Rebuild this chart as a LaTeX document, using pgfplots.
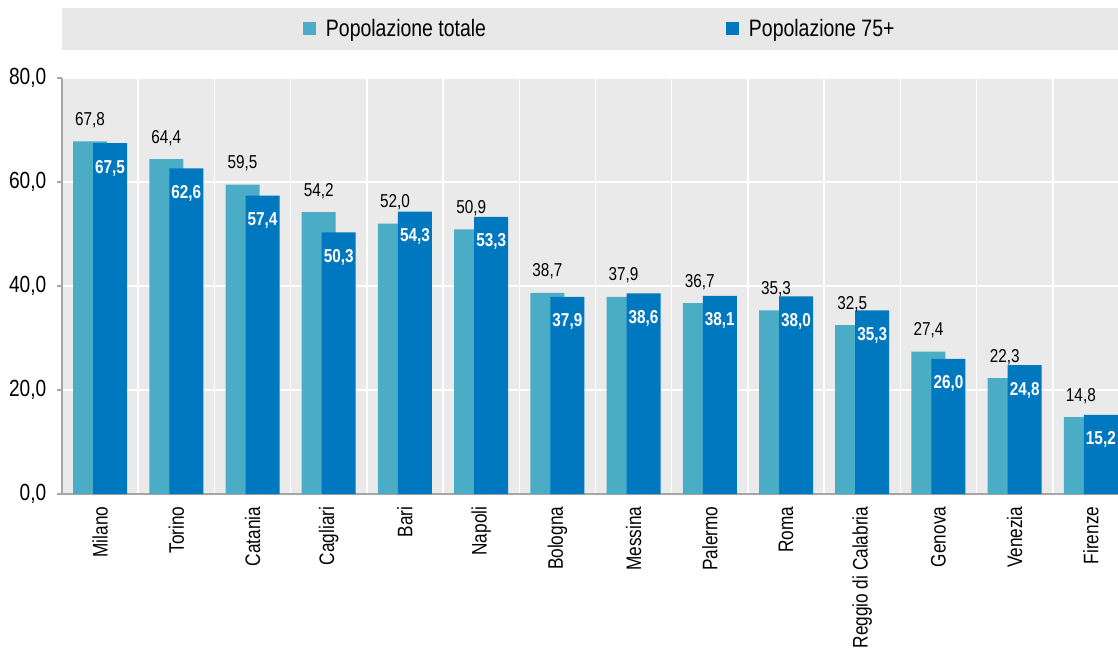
\documentclass[border=0pt]{standalone}
\usepackage{pgfplots}
\pgfplotsset{compat=1.18}
\usepackage{fontspec}
\setmainfont{Liberation Sans}[FakeStretch=0.82]
\newlength\px \setlength\px{0.75pt}
\definecolor{light}{RGB}{75,172,198}
\definecolor{dark}{RGB}{0,120,192}
\definecolor{bg}{RGB}{234,234,234}
\definecolor{band}{RGB}{232,232,232}
\definecolor{axgray}{RGB}{166,166,166}
\begin{document}
\begin{tikzpicture}
\useasboundingbox (-62\px,-160\px) rectangle (1056\px,494\px);
\fill[band] (0,444\px) rectangle (1056\px,486\px);
\begin{axis}[
  at={(0,0)}, anchor=south west,
  scale only axis, width=1056\px, height=416\px,
  xmin=-0.5, xmax=13.356, ymin=0, ymax=80,
  ytick={0,20,40,60,80},
  xtick={0,...,13},
  xticklabels={Milano,Torino,Catania,Cagliari,Bari,Napoli,Bologna,Messina,Palermo,Roma,Reggio di Calabria,Genova,Venezia,Firenze},
  minor xtick={0.5,1.5,...,12.5},
  xminorgrids, ymajorgrids,
  major grid style={white, line width=1.5\px},
  minor grid style={white, line width=1.5\px},
  axis background/.style={fill=bg},
  axis x line*=bottom, axis y line*=left,
  axis line style={axgray, line width=2\px},
  tick align=outside,
  major tick length=5\px, minor tick length=0pt,
  ytick style={axgray, line width=1.5\px},
  xtick style={draw=none},
  /pgf/number format/fixed, /pgf/number format/fixed zerofill,
  /pgf/number format/precision=1, /pgf/number format/use comma,
  /pgf/number format/assume math mode=true,
  yticklabel style={font=\fontsize{17.5}{20}\selectfont, xshift=-6\px},
  xticklabel style={rotate=90, anchor=east, xshift=-3\px, font=\fontsize{15.75}{18}\selectfont},
  legend columns=2,
  legend style={at={(axis description cs:0.2282,1.1178)}, anchor=west, draw=none, fill=none,
    inner sep=0pt, outer sep=0pt, column sep=10\px, nodes={inner sep=0pt},
    font=\fontsize{17.8}{20}\selectfont},
  legend image code/.code={\fill[#1] (0,-6.5\px) rectangle (13\px,6.5\px);},
]
\addplot[ybar, fill=light, draw=none, bar shift=-10\px, bar width=34\px,
  nodes near coords,
  every node near coord/.append style={anchor=base, xshift=-10\px, yshift=16\px, text=black, font=\fontsize{14}{16}\selectfont}]
  coordinates {(0,67.8) (1,64.4) (2,59.5) (3,54.2) (4,52.0) (5,50.9) (6,38.7) (7,37.9) (8,36.7) (9,35.3) (10,32.5) (11,27.4) (12,22.3) (13,14.8)};
\addlegendentry{\makebox[390\px][l]{Popolazione totale}}
\addplot[ybar, fill=dark, draw=none, bar shift=10\px, bar width=34\px,
  nodes near coords,
  every node near coord/.append style={anchor=base, xshift=10\px, yshift=-30\px, text=white, font=\bfseries\fontsize{14}{16}\selectfont}]
  coordinates {(0,67.5) (1,62.6) (2,57.4) (3,50.3) (4,54.3) (5,53.3) (6,37.9) (7,38.6) (8,38.1) (9,38.0) (10,35.3) (11,26.0) (12,24.8) (13,15.2)};
\addlegendentry{Popolazione 75+}
\end{axis}
\end{tikzpicture}
\end{document}
